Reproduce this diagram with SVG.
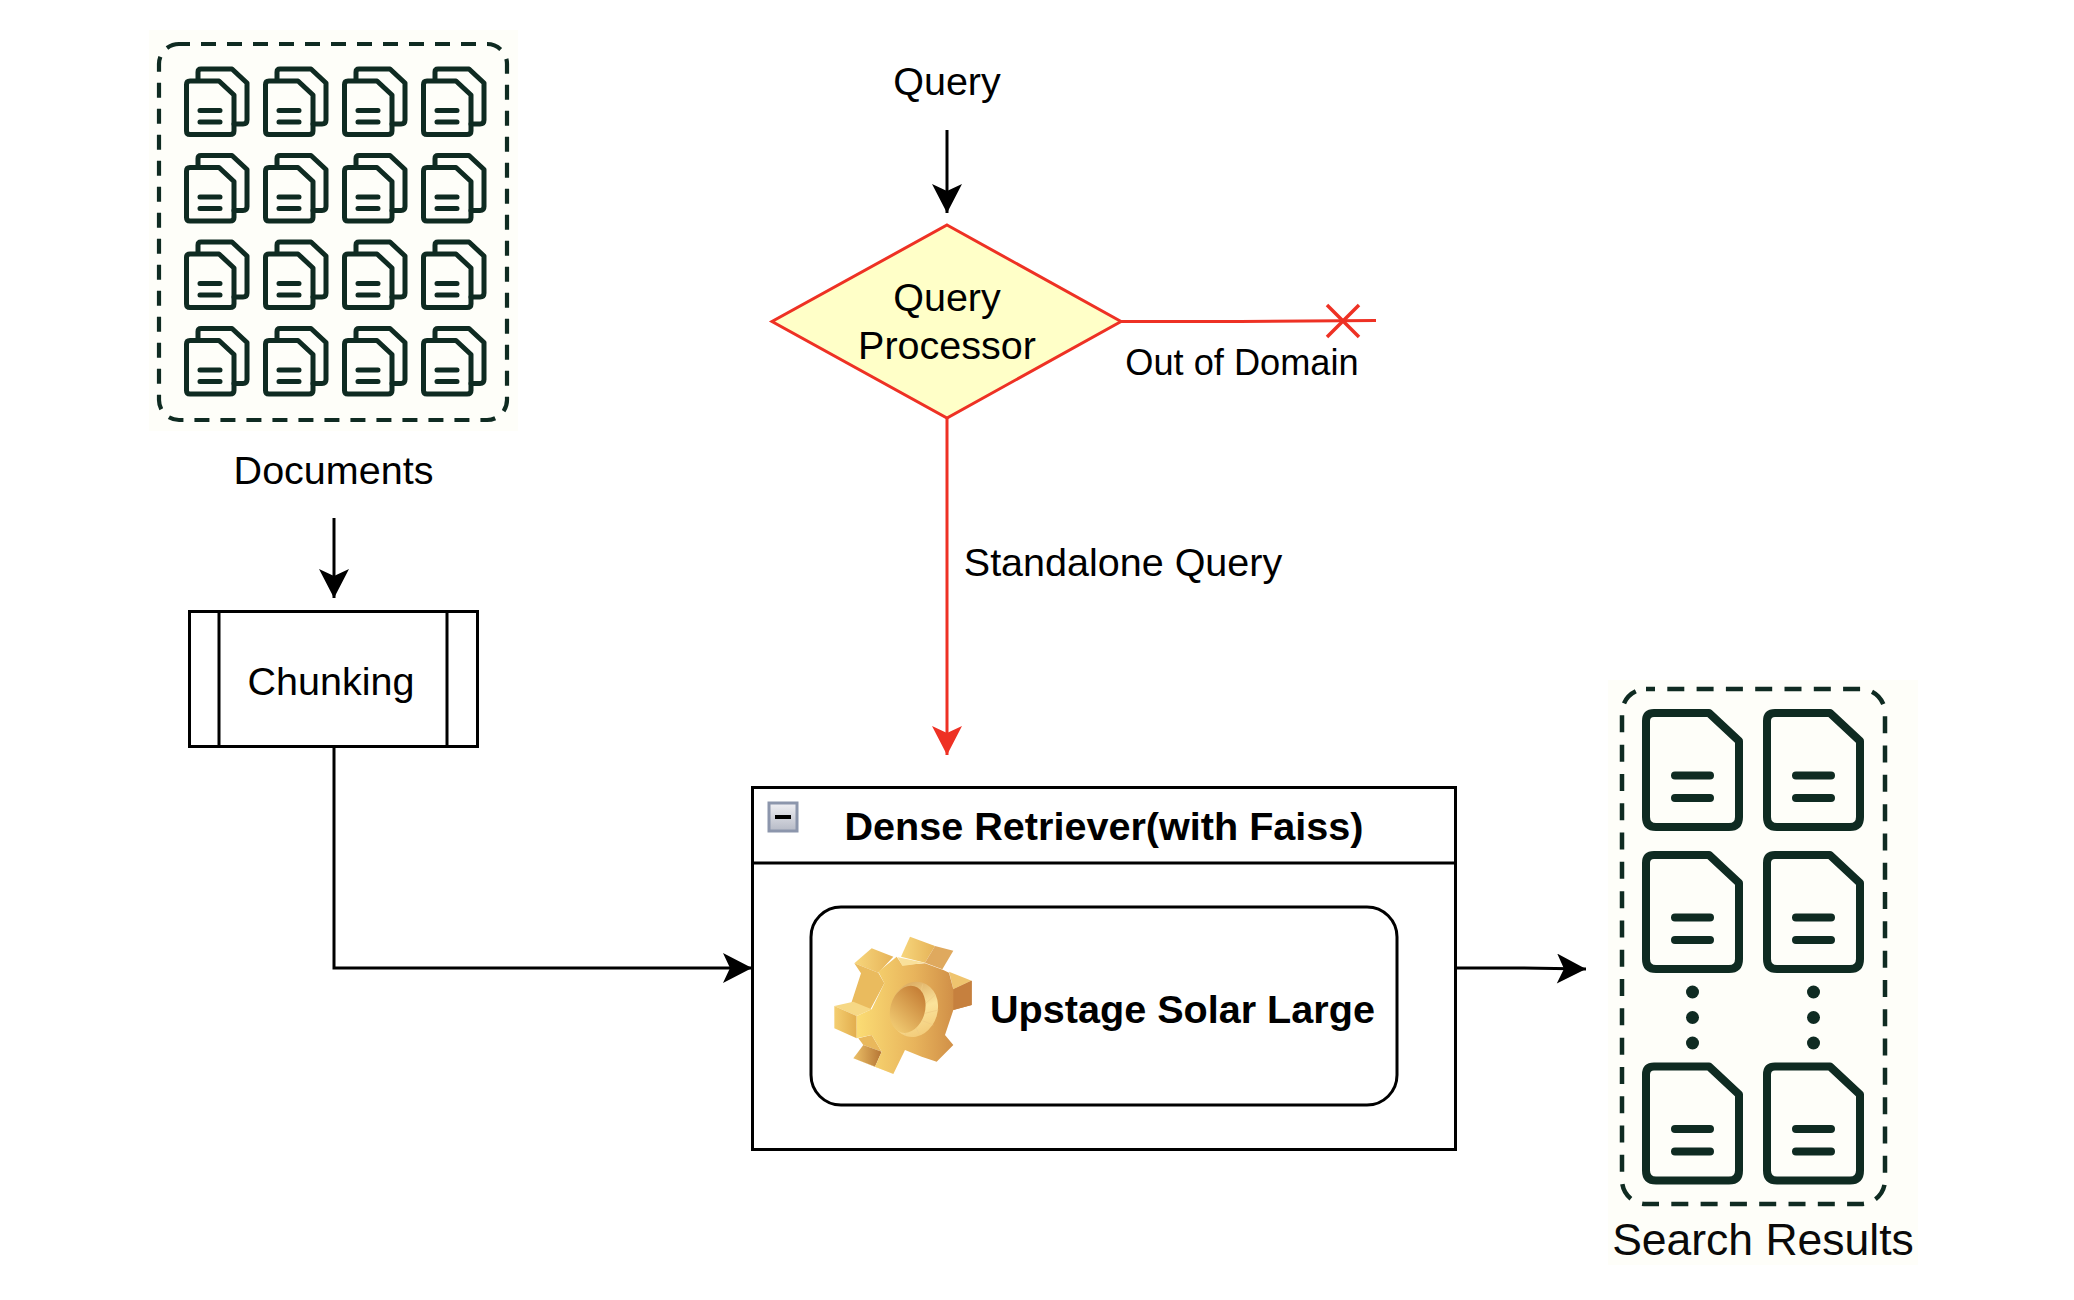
<svg xmlns="http://www.w3.org/2000/svg" width="2074" height="1300" viewBox="0 0 2074 1300">
<style>
text{font-family:"Liberation Sans",Arial,sans-serif;fill:#000}
.l{font-size:39.5px;text-anchor:middle}
.b{font-size:39.6px;font-weight:700}
.d1{fill:none;stroke:#0f2b22;stroke-width:5;stroke-linejoin:round;stroke-linecap:round}
.d2{fill:none;stroke:#0f2b22;stroke-width:8;stroke-linejoin:round;stroke-linecap:round}
.k{fill:none;stroke:#000;stroke-width:3}
.r{fill:none;stroke:#ee3124;stroke-width:3}
</style>
<defs>
<marker id="ak" markerUnits="userSpaceOnUse" markerWidth="32" markerHeight="32" refX="30" refY="15" orient="auto"><path d="M1 0L30 15L1 30L8 15Z" fill="#000"/></marker>
<marker id="ar" markerUnits="userSpaceOnUse" markerWidth="32" markerHeight="32" refX="30" refY="15" orient="auto"><path d="M1 0L30 15L1 30L8 15Z" fill="#ee3124"/></marker>
<g id="stack">
<path class="d1" d="M198 79V72Q198 69 201 69H232L247 83V120Q247 124 243 124H234"/>
<path class="d1" d="M190 81H219L234 95V131Q234 134.500 230 134.500H190Q186.500 134.500 186.500 131V84.500Q186.500 81 190 81Z"/>
<path class="d1" d="M200 110.500H220M200 122H220"/>
</g>
<g id="doc">
<path class="d2" d="M1654 713H1709L1739 741V817Q1739 827 1729 827H1656Q1646 827 1646 817V721Q1646 713 1654 713Z"/>
<path class="d2" d="M1675 775.500H1710M1675 798H1710"/>
</g>
<linearGradient id="gt" x1="0" y1="0" x2="1" y2="0"><stop offset="0" stop-color="#f7d67c"/><stop offset="1" stop-color="#e6b358"/></linearGradient>
<linearGradient id="gf" gradientUnits="userSpaceOnUse" x1="95" y1="0" x2="440" y2="0"><stop offset="0" stop-color="#fbdc74"/><stop offset=".5" stop-color="#e8b45c"/><stop offset="1" stop-color="#c67f3e"/></linearGradient>
<linearGradient id="gh" x1=".7" y1="0" x2=".3" y2="1"><stop offset="0" stop-color="#c47c34"/><stop offset="1" stop-color="#f1cb72"/></linearGradient>
<linearGradient id="gr" x1="0" y1="0" x2=".6" y2="1"><stop offset="0" stop-color="#d39c52"/><stop offset=".6" stop-color="#fbe39a"/><stop offset="1" stop-color="#f3cd7c"/></linearGradient>
<linearGradient id="gb" x1="0" y1="0" x2="1" y2="0"><stop offset="0" stop-color="#ecc068"/><stop offset="1" stop-color="#b57534"/></linearGradient>
<linearGradient id="gl" x1="0" y1="0" x2="1" y2="0"><stop offset="0" stop-color="#f4ce70"/><stop offset="1" stop-color="#e2ad4e"/></linearGradient>
<linearGradient id="gi" x1="0" y1="0" x2="0" y2="1"><stop offset="0" stop-color="#f0f0f4"/><stop offset="1" stop-color="#b6bac6"/></linearGradient>
</defs>

<g id="documents">
<rect x="149" y="30" width="369" height="401" fill="#fefef9"/>
<rect x="159" y="44" width="348" height="376" rx="20" fill="none" stroke="#0f2b22" stroke-width="4.200" stroke-dasharray="15 11" stroke-dashoffset="4"/>
<use href="#stack"/><use href="#stack" x="79"/><use href="#stack" x="158"/><use href="#stack" x="237"/>
<use href="#stack" y="86.500"/><use href="#stack" x="79" y="86.500"/><use href="#stack" x="158" y="86.500"/><use href="#stack" x="237" y="86.500"/>
<use href="#stack" y="173"/><use href="#stack" x="79" y="173"/><use href="#stack" x="158" y="173"/><use href="#stack" x="237" y="173"/>
<use href="#stack" y="259.500"/><use href="#stack" x="79" y="259.500"/><use href="#stack" x="158" y="259.500"/><use href="#stack" x="237" y="259.500"/>
<text class="l" x="333.500" y="483.500">Documents</text>
</g>

<g id="chunking">
<rect x="189.500" y="611.500" width="288" height="135" fill="#fff" stroke="#000" stroke-width="3"/>
<path class="k" d="M219 611V746M447 611V746"/>
<text class="l" x="331" y="695">Chunking</text>
</g>

<g id="query-label"><text class="l" x="947" y="95">Query</text></g>

<g id="query-processor">
<path d="M947 225L1121 321.500L947 418L772 321.500Z" fill="#ffffc8" stroke="#ee3124" stroke-width="3"/>
<text class="l" x="947" y="311">Query</text>
<text class="l" x="947" y="359">Processor</text>
</g>

<g id="dense-retriever">
<rect x="752.500" y="787.500" width="703" height="362" fill="#fff" stroke="#000" stroke-width="3"/>
<path class="k" d="M752 863H1455"/>
<rect x="769" y="803" width="28" height="28" fill="url(#gi)" stroke="#8c96ac" stroke-width="3"/>
<path d="M775 817H791" stroke="#000" stroke-width="4"/>
<text class="b" x="1104" y="840" text-anchor="middle">Dense Retriever(with Faiss)</text>
<rect x="811" y="907" width="586" height="198" rx="30" fill="#fff" stroke="#000" stroke-width="3"/>
<g id="gear" transform="translate(825 930) scale(.33333)">
<path d="M140 55L205 80L160 128L88 100Z" fill="url(#gt)"/>
<path d="M88 100L160 128L178 160L135 240L78 222L108 130Z" fill="#eabb5e"/>
<path d="M255 20L330 48L300 98L228 80Z" fill="url(#gt)"/>
<path d="M330 48L385 62L352 118L300 98Z" fill="#dfa95e"/>
<path d="M372 125L440 152L385 178Z" fill="#efc46e"/>
<path d="M100 325L140 315L170 365L115 345Z" fill="#e9b85c"/>
<path d="M115 345L170 365L150 410L85 385Z" fill="url(#gb)"/>
<path d="M85 385L150 410L210 432Z" fill="#f2cc74"/>
<path d="M28 228L85 215L140 238L95 258Z" fill="#f6d885"/>
<path d="M28 228L95 258V325L28 295Z" fill="url(#gl)"/>
<path d="M160 125L215 80L232 105L300 100L355 120L372 128L385 178L440 152V225L385 240L360 315L385 345L335 395L290 380L240 360L205 432L150 410L170 365L140 315L95 325V258L140 238L178 160Z" fill="url(#gf)"/>
<path d="M385 178L440 152V225L385 240Z" fill="#c6803e"/>
<path d="M218 82L300 98L232 108Z" fill="#f9e09a"/>
<ellipse cx="268" cy="238" rx="70" ry="84" transform="rotate(16 268 238)" fill="url(#gr)"/>
<path d="M293 163L285 198M330 195L300 222M340 240L300 250M325 285L292 272M282 312L270 285M240 318L245 292" stroke="#eeca84" stroke-width="2" fill="none"/>
<ellipse cx="248" cy="238" rx="52" ry="72" transform="rotate(16 248 238)" fill="url(#gh)"/>
</g>
<text class="b" x="990" y="1022.500">Upstage Solar Large</text>
</g>

<g id="search-results">
<rect x="1608" y="680" width="310" height="585" fill="#fefef9"/>
<rect x="1622" y="689" width="263" height="515" rx="24" fill="none" stroke="#0f2b22" stroke-width="4.500" stroke-dasharray="17 12.300" stroke-dashoffset="8"/>
<use href="#doc"/><use href="#doc" x="121"/>
<use href="#doc" y="142"/><use href="#doc" x="121" y="142"/>
<use href="#doc" y="353.500"/><use href="#doc" x="121" y="353.500"/>
<g fill="#0f2b22"><circle cx="1692.500" cy="992" r="6.500"/><circle cx="1692.500" cy="1017.500" r="6.500"/><circle cx="1692.500" cy="1043" r="6.500"/><circle cx="1813.500" cy="992" r="6.500"/><circle cx="1813.500" cy="1017.500" r="6.500"/><circle cx="1813.500" cy="1043" r="6.500"/></g>
<text x="1763" y="1255" font-size="44.500" text-anchor="middle" style="fill:#0a0a0a">Search Results</text>
</g>

<g id="connectors">
<path class="k" d="M947 130V213" marker-end="url(#ak)"/>
<path class="k" d="M334 518V598" marker-end="url(#ak)"/>
<path class="k" d="M334 746V968H752" marker-end="url(#ak)"/>
<path class="k" d="M1455 968H1520L1586 969" marker-end="url(#ak)"/>
<path class="r" d="M947 418V755" marker-end="url(#ar)"/>
<path class="r" d="M1121 321.500H1240L1376 320.500"/>
<path class="r" d="M1327 305L1359 337M1359 305L1327 337" style="stroke-width:3.500"/>
</g>
<text class="l" x="1242" y="374.500" style="font-size:36.200px">Out of Domain</text>
<text class="l" x="1123" y="576">Standalone Query</text>
</svg>
